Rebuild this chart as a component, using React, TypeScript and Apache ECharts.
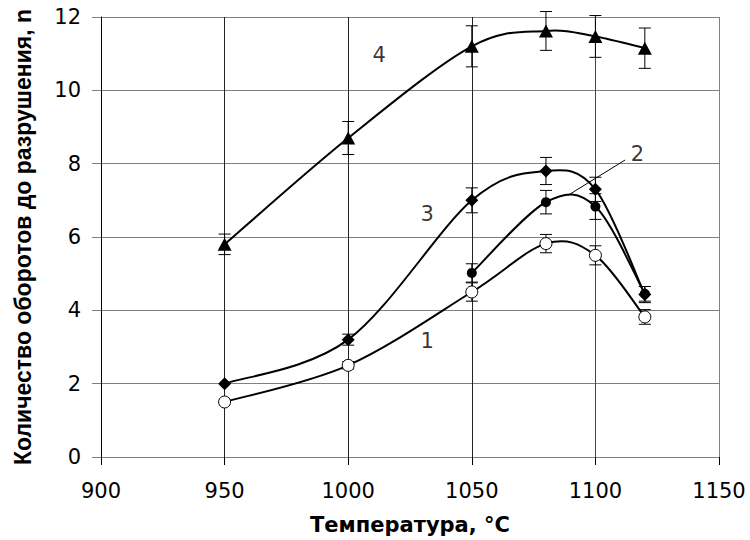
import React, { useEffect, useRef } from "react";
import * as echarts from "echarts";

// Temperatures, °C
const temps = [950, 1000, 1050, 1080, 1100, 1120];
// Curve 1 (open circles)
const curve1 = [1.5, 2.5, 4.5, 5.82, 5.5, 3.82];
const err1 = [0, 0.1, 0.25, 0.25, 0.26, 0.2];
// Curve 2 (filled circles) – starts at 1050
const temps2 = [1050, 1080, 1100, 1120];
const curve2 = [5.02, 6.95, 6.83, 4.45];
const err2 = [0.25, 0.32, 0.35, 0.2];
// Curve 3 (diamonds)
const curve3 = [2.0, 3.2, 7.0, 7.8, 7.3, 4.43];
const err3 = [0, 0.15, 0.34, 0.37, 0.33, 0.22];
// Curve 4 (triangles)
const curve4 = [5.8, 8.7, 11.2, 11.62, 11.47, 11.15];
const err4 = [0.28, 0.45, 0.56, 0.53, 0.57, 0.55];

// Curve number annotations [x, y, text]
const curveLabels: [number, number, string][] = [
  [1012.5, 10.96, "4"],
  [1032, 6.63, "3"],
  [1117, 8.26, "2"],
  [1032, 3.16, "1"],
];
// Leader line for label "2"
const leader = [
  [1112, 8.1],
  [1089, 7.14],
];

const xTicks = { min: 900, max: 1150, interval: 50 };
const yTicks = { min: 0, max: 12, interval: 2 };

export default function App() {
  const ref = useRef<HTMLDivElement>(null);
  useEffect(() => {
    if (!ref.current) return;
    const chart = echarts.init(ref.current, undefined, { renderer: "svg" });

    const pairs = (xs: number[], ys: number[]) => xs.map((x, i) => [x, ys[i]]);
    const errData: number[][] = [];
    const addErr = (xs: number[], ys: number[], es: number[]) =>
      xs.forEach((x, i) => {
        if (es[i] > 0) errData.push([x, ys[i] - es[i], ys[i] + es[i]]);
      });
    addErr(temps, curve1, err1);
    addErr(temps2, curve2, err2);
    addErr(temps, curve3, err3);
    addErr(temps, curve4, err4);

    // Smoothed curve (Excel-like Bezier) drawn through the axis scales
    const curveSeries = (name: string, pts: number[][]) => ({
      type: "custom",
      name: name + "-curve",
      z: 3,
      data: pts,
      encode: { x: 0, y: 1 },
      renderItem: (params: any, api: any) => {
        const i = params.dataIndex;
        const n = pts.length;
        if (i >= n - 1) return null;
        const P = (k: number) => api.coord(pts[Math.max(0, Math.min(n - 1, k))]);
        const p0 = P(i - 1), p1 = P(i), p2 = P(i + 1), p3 = P(i + 2);
        return {
          type: "bezierCurve",
          shape: {
            x1: p1[0],
            y1: p1[1],
            cpx1: p1[0] + (p2[0] - p0[0]) / 6,
            cpy1: p1[1] + (p2[1] - p0[1]) / 6,
            cpx2: p2[0] - (p3[0] - p1[0]) / 6,
            cpy2: p2[1] - (p3[1] - p1[1]) / 6,
            x2: p2[0],
            y2: p2[1],
          },
          style: { stroke: "#000", lineWidth: 2, fill: null },
        };
      },
    });

    const markerBase = { type: "scatter", z: 4 };

    chart.setOption({
      animation: false,
      backgroundColor: "#fff",
      grid: { left: 101, right: 31, top: 17, bottom: 83, containLabel: false },
      xAxis: {
        type: "value",
        ...xTicks,
        axisLine: { show: true, onZero: false, lineStyle: { color: "#808080", width: 1 } },
        axisTick: { show: true, length: 8, lineStyle: { color: "#000", width: 1 } },
        axisLabel: {
          color: "#000",
          fontFamily: "DejaVu Sans",
          fontSize: 21,
          margin: 23,
          formatter: (v: number) => String(v),
        },
        splitLine: {
          show: true,
          lineStyle: {
            color: ["#222", "#222", "#222", "#222", "#444", "#808080"],
            width: 1,
          },
        },
        name: "Температура, °C",
        nameLocation: "middle",
        nameGap: 57,
        nameTextStyle: {
          color: "#000",
          fontFamily: "DejaVu Sans",
          fontWeight: "bold",
          fontSize: 21,
        },
      },
      yAxis: {
        type: "value",
        ...yTicks,
        axisLine: { show: true, lineStyle: { color: "#000", width: 1 } },
        axisTick: { show: true, length: 9, lineStyle: { color: "#808080", width: 1 } },
        axisLabel: {
          color: "#000",
          fontFamily: "DejaVu Sans",
          fontSize: 21,
          margin: 20,
          formatter: (v: number) => String(v),
        },
        splitLine: { show: true, lineStyle: { color: "#808080", width: 1 } },
        name: "Количество оборотов до разрушения, n",
        nameLocation: "middle",
        nameGap: 67,
        nameRotate: 90,
        nameTextStyle: {
          color: "#000",
          fontFamily: "Liberation Sans",
          fontWeight: "bold",
          fontSize: 23,
        },
      },
      series: [
        {
          type: "custom",
          name: "errors",
          z: 2,
          data: errData,
          encode: { x: 0, y: [1, 2] },
          renderItem: (params: any, api: any) => {
            const x = api.value(0);
            const top = api.coord([x, api.value(2)]);
            const bot = api.coord([x, api.value(1)]);
            const hw = 6;
            const st = { stroke: "#000", lineWidth: 1 };
            return {
              type: "group",
              children: [
                { type: "line", shape: { x1: top[0], y1: top[1], x2: bot[0], y2: bot[1] }, style: st },
                { type: "line", shape: { x1: top[0] - hw, y1: top[1], x2: top[0] + hw, y2: top[1] }, style: st },
                { type: "line", shape: { x1: bot[0] - hw, y1: bot[1], x2: bot[0] + hw, y2: bot[1] }, style: st },
              ],
            };
          },
        },
        curveSeries("1", pairs(temps, curve1)),
        curveSeries("2", pairs(temps2, curve2)),
        curveSeries("3", pairs(temps, curve3)),
        curveSeries("4", pairs(temps, curve4)),
        {
          ...markerBase,
          name: "1",
          data: pairs(temps, curve1),
          symbol: "circle",
          symbolSize: 12,
          itemStyle: { color: "#fff", borderColor: "#000", borderWidth: 1, opacity: 1 },
        },
        {
          ...markerBase,
          name: "2",
          data: pairs(temps2, curve2),
          symbol: "circle",
          symbolSize: 10,
          itemStyle: { color: "#000", opacity: 1 },
        },
        {
          ...markerBase,
          name: "3",
          data: pairs(temps, curve3),
          symbol: "diamond",
          symbolSize: 13,
          itemStyle: { color: "#000", opacity: 1 },
        },
        {
          ...markerBase,
          name: "4",
          data: pairs(temps, curve4),
          symbol: "triangle",
          symbolSize: [14, 13],
          itemStyle: { color: "#000", opacity: 1 },
        },
        {
          type: "line",
          name: "leader",
          data: leader,
          symbol: "none",
          smooth: false,
          lineStyle: { color: "#000", width: 1 },
          z: 4,
        },
        {
          type: "scatter",
          name: "labels",
          data: curveLabels.map(([x, y, t]) => ({ value: [x, y], name: t })),
          symbolSize: 0.01,
          itemStyle: { color: "transparent" },
          label: {
            show: true,
            position: [0, 0],
            align: "center",
            verticalAlign: "middle",
            formatter: (p: any) => p.name,
            color: "#000",
            fontFamily: "DejaVu Sans",
            fontSize: 21,
          },
          z: 5,
        },
      ],
    });
    return () => chart.dispose();
  }, []);
  return (
    <div
      ref={ref}
      style={{ position: "fixed", left: 0, top: 0, width: 750, height: 540, background: "#fff" }}
    />
  );
}
